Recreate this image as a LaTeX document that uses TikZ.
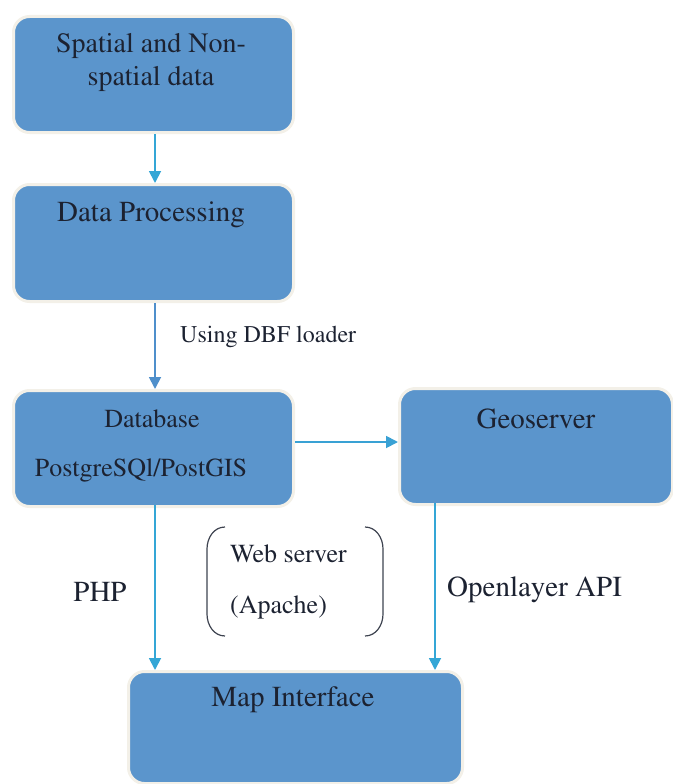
\documentclass[tikz,border=0pt]{standalone}
\usepackage[T1]{fontenc}
\usepackage{mathptmx}
\usetikzlibrary{arrows.meta,positioning,calc}
\definecolor{boxblue}{HTML}{5B95CC}
\definecolor{boxrim}{HTML}{F3F0E8}
\definecolor{linkcyan}{HTML}{34A6D6}
\definecolor{linkblue}{HTML}{4F8FCB}
\definecolor{inkdark}{HTML}{1C2231}

\tikzset{
  flowbox/.style={draw=boxrim, line width=3pt, fill=boxblue, rounded corners=16pt, inner sep=0pt, anchor=north west},
  boxtext/.style={font=\fontsize{28}{33}\selectfont, text=inkdark, align=center, inner sep=0pt},
  sidetext/.style={font=\fontsize{27}{31}\selectfont, text=inkdark, inner sep=0pt},
  flowlink/.style={linkcyan, line width=1.8pt, -{Triangle[length=12pt,width=12pt]}},
}

\begin{document}
\begin{tikzpicture}[x=1pt, y=-1pt]
      \useasboundingbox (0,0) rectangle (672,784);

      % Boxes
      \node[flowbox, minimum width=280pt, minimum height=116pt] (source) at (12,15) {};
      \node[flowbox, minimum width=280pt, minimum height=117pt] (process) at (12,183) {};
      \node[flowbox, minimum width=280pt, minimum height=116pt] (database) at (12,389) {};
      \node[flowbox, minimum width=273pt, minimum height=116pt] (geoserver) at (398,387) {};
      \node[flowbox, minimum width=334pt, minimum height=112pt] (mapui) at (127,670) {};

      % Box texts
      \node[boxtext] (sourceText) at (151,63) {Spatial and Non-\\spatial data};
      \node[boxtext, font=\fontsize{29}{33}\selectfont] (processText) at (151,215) {Data Processing};
      \node[boxtext, font=\fontsize{26}{30}\selectfont] (dbName) at (152,419) {Database};
      \node[boxtext, font=\fontsize{26}{30}\selectfont] (dbSystem) at (141,470) {PostgreSQl/PostGIS};
      \node[boxtext, font=\fontsize{29}{33}\selectfont] (geoText) at (536,419) {Geoserver};
      \node[boxtext, font=\fontsize{29}{33}\selectfont] (mapText) at (293,700) {Map Interface};

      % Connectors
      \coordinate (procTop) at (155,183);
      \coordinate (dbTop) at (155,389);
      \coordinate (dbBottom) at (155,505);
      \coordinate (geoBottom) at (435,503);
      \draw[flowlink] (source.south -| procTop) -- (procTop);
      \draw[flowlink, linkblue] (process.south -| dbTop) -- (dbTop);
      \draw[flowlink, color=linkcyan!80!linkblue] (database.east |- 0,442) -- (geoserver.west |- 0,442);
      \draw[flowlink] (dbBottom) -- (dbBottom |- mapui.north);
      \draw[flowlink] (geoBottom) -- (geoBottom |- mapui.north);

      % Labels
      \node[sidetext, font=\fontsize{24}{28}\selectfont, anchor=base west] (loaderText) at (180,342) {Using DBF loader};
      \node[sidetext, font=\fontsize{29}{33}\selectfont] (phpText) at (100,592) {PHP};
      \node[sidetext, font=\fontsize{29}{33}\selectfont, anchor=west] (apiText) at (447,590) {Openlayer API};

      % Web server in brackets
      \node[sidetext, font=\fontsize{26}{51}\selectfont, align=left, anchor=west] (webText) at (230,582) {Web server\\(Apache)};
      \draw[inkdark!85, line width=1.2pt] (225,527) to[out=180,in=90] (207,549) -- (207,614) to[out=-90,in=180] (225,636);
      \draw[inkdark!85, line width=1.2pt] (365,527) to[out=0,in=90] (383,549) -- (383,614) to[out=-90,in=0] (365,636);
    \end{tikzpicture}
\end{document}
